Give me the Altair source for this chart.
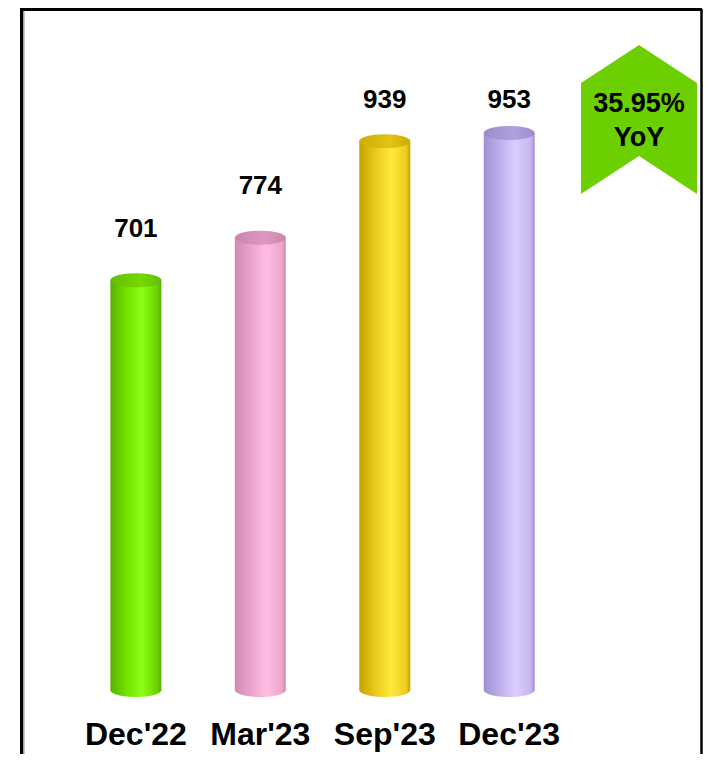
import altair as alt
import pandas as pd

# ---- data ----
categories = ["Dec'22", "Mar'23", "Sep'23", "Dec'23"]
values = [701, 774, 939, 953]

# ---- colours (per cylinder) ----
body_dark = ["#58b000", "#d08ab0", "#c4a200", "#a090d2"]
body_mid = ["#74e000", "#eaa2ca", "#e6c81a", "#bcacec"]
body_light = ["#8aff16", "#ffbde2", "#ffea3d", "#dccdff"]
body_edge = ["#6cd000", "#eca6ce", "#efcc1c", "#c6b6f2"]
top_dark = ["#62c000", "#cc84ac", "#ccae00", "#9c8cca"]
top_light = ["#76d800", "#de98c0", "#e2c416", "#b0a0de"]
badge_color = "#6ccf00"

yoy_text = f"{(values[-1] / values[0] - 1) * 100:.2f}%"

df = pd.DataFrame({"cat": categories, "idx": list(range(len(categories))), "value": values})

FONT = "Liberation Sans"
W, H = 681, 745
xs = alt.Scale(domain=[-0.883, 4.509], nice=False, zero=False)
ys = alt.Scale(domain=[-109.5, 1165.2], nice=False, zero=False)
ELL = "M-1,0 A1,0.275 0 1,0 1,0 A1,0.275 0 1,0 -1,0 Z"
BADGE = "M0,-1.284 L1,-0.629 L1,1.284 L0,0.629 L-1,1.284 L-1,-0.629 Z"


def hgrad(stops):
    return alt.Gradient(
        gradient="linear", x1=0, y1=0, x2=1, y2=0,
        stops=[alt.GradientStop(color=c, offset=o) for o, c in stops],
    )


X = alt.X("idx:Q", scale=xs, axis=None)
base = alt.Chart(df)
layers = []
for i, c in enumerate(categories):
    g_body = hgrad([(0, body_dark[i]), (0.3, body_mid[i]), (0.62, body_light[i]),
                    (0.92, body_edge[i]), (1, body_dark[i])])
    g_top = hgrad([(0, top_dark[i]), (0.6, top_light[i]), (1, top_dark[i])])
    sub = base.transform_filter(alt.datum.cat == c)
    layers.append(sub.mark_point(shape=ELL, size=2601, filled=True, fill=g_body,
                                 opacity=1, strokeWidth=0).encode(
        x=X, y=alt.Y(datum=0, scale=ys, axis=None)))
    layers.append(sub.mark_bar(size=51, fill=g_body, orient="vertical").encode(
        x=X, y=alt.Y("value:Q", scale=ys, axis=None), y2=alt.Y2(datum=0)))
    layers.append(sub.mark_point(shape=ELL, size=2601, filled=True, fill=g_top,
                                 opacity=1, strokeWidth=0).encode(
        x=X, y=alt.Y("value:Q", scale=ys, axis=None)))

value_labels = base.transform_calculate(
    label_y="min(datum.value + 88, 1009)"
).mark_text(font=FONT, fontSize=26, fontWeight="bold", color="black",
            baseline="middle").encode(
    x=X, y=alt.Y("label_y:Q", scale=ys, axis=None), text=alt.Text("value:Q"))

cat_labels = base.mark_text(font=FONT, fontSize=32, fontWeight="bold", color="black",
                            baseline="middle", dy=45).encode(
    x=X, y=alt.Y(datum=0, scale=ys, axis=None), text="cat:N")

one = alt.Chart(alt.Data(values=[{"t": yoy_text, "u": "YoY"}]))
badge = one.mark_point(shape=BADGE, size=116 * 116, filled=True, fill=badge_color,
                       opacity=1, strokeWidth=0).encode(
    x=alt.value(618), y=alt.value(110.5))
badge_t1 = one.mark_text(font=FONT, fontSize=27, fontWeight="bold", color="black",
                         baseline="middle").encode(
    x=alt.value(618), y=alt.value(95), text="t:N")
badge_t2 = one.mark_text(font=FONT, fontSize=27, fontWeight="bold", color="black",
                         baseline="middle").encode(
    x=alt.value(618), y=alt.value(128.5), text="u:N")

frame_left = one.mark_rule(color="black", strokeWidth=3).encode(
    x=alt.value(0.5), y=alt.value(0), y2=alt.value(H))
frame_left_grey = one.mark_rule(color="#9a9a9a", strokeWidth=1.5).encode(
    x=alt.value(2.8), y=alt.value(1.5), y2=alt.value(H))
frame_top = one.mark_rule(color="black", strokeWidth=3).encode(
    x=alt.value(-1), x2=alt.value(W), y=alt.value(0.5))
frame_right = one.mark_rule(color="black", strokeWidth=2.5).encode(
    x=alt.value(W - 0.5), y=alt.value(0), y2=alt.value(H))

chart = alt.layer(
    *layers, value_labels, cat_labels, badge, badge_t1, badge_t2,
    frame_left, frame_left_grey, frame_top, frame_right,
).properties(
    width=W, height=H,
    autosize=alt.AutoSizeParams(type="none"),
    padding={"left": 13, "top": 1, "right": 1, "bottom": 0},
).configure_view(stroke=None)

chart.save("out.html", embed_options={"renderer": "svg", "actions": False})
